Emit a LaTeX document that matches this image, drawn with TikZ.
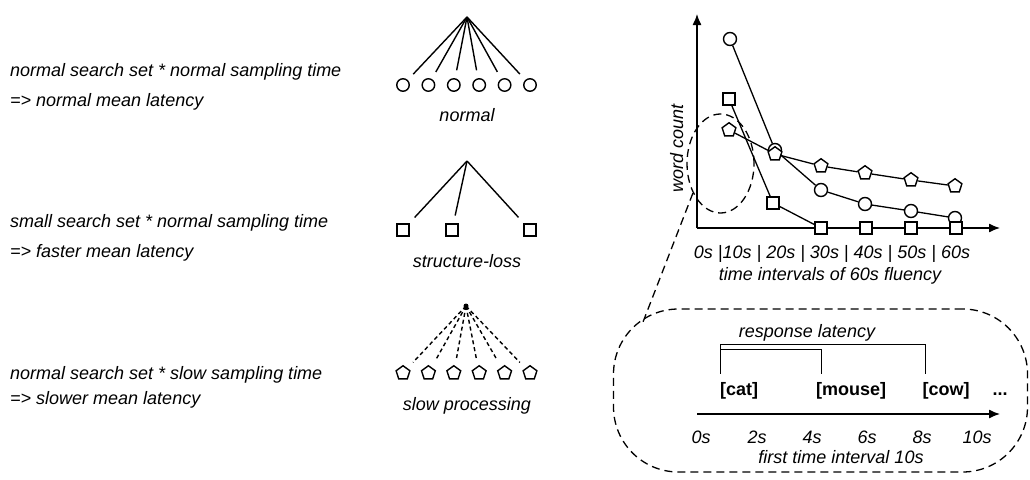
\documentclass[tikz,border=0pt]{standalone}
\usepackage{fontspec}
\setmainfont{Liberation Sans}
\usetikzlibrary{positioning}
\usetikzlibrary{shapes.geometric}
\usetikzlibrary{arrows.meta}

\tikzset{
	txt/.style = {font = \fontsize{18}{22}\selectfont\itshape, inner sep = 0pt},
	word/.style = {font = \fontsize{18}{22}\selectfont\bfseries, inner sep = 0pt},
	leafcirc/.style = {draw, circle, fill = white, line width = 1.4pt, minimum size = 12.5pt, inner sep = 0pt},
	leafsq/.style = {draw, rectangle, fill = white, line width = 1.4pt, minimum size = 12pt, inner sep = 0pt},
	leafpent/.style = {draw, regular polygon, regular polygon sides = 5, fill = white, line width = 1.4pt, minimum size = 14.5pt, inner sep = 0pt},
	branch/.style = {line width = 1.4pt, shorten >= 8pt},
	slowbranch/.style = {branch, dash pattern = on 4pt off 3pt},
	zoomline/.style = {line width = 1.3pt, dash pattern = on 8pt off 5pt},
	axis/.style = {line width = 1.3pt, -{Latex[length = 11pt, width = 9pt]}},
}

\begin{document}
\begin{tikzpicture}[x = 1pt, y = -1pt]
	\useasboundingbox (0, 0) rectangle (1030, 479);

	\node (rule1a) at (10, 76) [txt, anchor = base west] {normal search set * normal sampling time};
	\node (rule1b) at (10, 106) [txt, anchor = base west] {=> normal mean latency};
	\node (rule2a) at (10, 227) [txt, anchor = base west] {small search set * normal sampling time};
	\node (rule2b) at (10, 257) [txt, anchor = base west] {=> faster mean latency};
	\node (rule3a) at (10, 379) [txt, anchor = base west] {normal search set * slow sampling time};
	\node (rule3b) at (10, 404) [txt, anchor = base west] {=> slower mean latency};

	\coordinate (top1) at (467, 17);
	\node (n1) at (403, 85) [leafcirc] {};
	\node (n2) at (428.4, 85) [leafcirc] {};
	\node (n3) at (453.8, 85) [leafcirc] {};
	\node (n4) at (479.2, 85) [leafcirc] {};
	\node (n5) at (504.6, 85) [leafcirc] {};
	\node (n6) at (530, 85) [leafcirc] {};
	\draw [branch] (top1) -- (n1);
	\draw [branch] (top1) -- (n2);
	\draw [branch] (top1) -- (n3);
	\draw [branch] (top1) -- (n4);
	\draw [branch] (top1) -- (n5);
	\draw [branch] (top1) -- (n6);
	\node (lab1) at (467, 121) [txt, anchor = base] {normal};

	\coordinate (top2) at (467, 161);
	\node (q1) at (403, 230) [leafsq] {};
	\node (q2) at (452, 230) [leafsq] {};
	\node (q3) at (530, 230) [leafsq] {};
	\draw [branch] (top2) -- (q1);
	\draw [branch] (top2) -- (q2);
	\draw [branch] (top2) -- (q3);
	\node (lab2) at (467, 267) [txt, anchor = base] {structure-loss};

	\coordinate (top3) at (466, 306);
	\node (m1) at (403, 373) [leafpent] {};
	\node (m2) at (428.4, 373) [leafpent] {};
	\node (m3) at (453.8, 373) [leafpent] {};
	\node (m4) at (479.2, 373) [leafpent] {};
	\node (m5) at (504.6, 373) [leafpent] {};
	\node (m6) at (530, 373) [leafpent] {};
	\fill (top3) circle [radius = 2.5pt];
	\draw [slowbranch] (top3) -- (m1);
	\draw [slowbranch] (top3) -- (m2);
	\draw [slowbranch] (top3) -- (m3);
	\draw [slowbranch] (top3) -- (m4);
	\draw [slowbranch] (top3) -- (m5);
	\draw [slowbranch] (top3) -- (m6);
	\node (lab3) at (467, 410) [txt, anchor = base] {slow processing};

	\coordinate (origin) at (697, 228);
	\coordinate (ytip) at (697, 14);
	\coordinate (xtip) at (1000, 228);
	\draw [axis] (origin) -- (ytip);
	\draw [axis] (origin) -- (xtip);

	\node (c1) at (730, 39) [leafcirc, minimum size = 13pt] {};
	\node (c2) at (775, 150) [leafcirc, minimum size = 13pt] {};
	\node (c3) at (821, 190) [leafcirc, minimum size = 13pt] {};
	\node (c4) at (865, 204) [leafcirc, minimum size = 13pt] {};
	\node (c5) at (911, 211) [leafcirc, minimum size = 13pt] {};
	\node (c6) at (955, 218) [leafcirc, minimum size = 13pt] {};
	\node (s1) at (729, 99) [leafsq] {};
	\node (s2) at (773, 203) [leafsq] {};
	\node (s3) at (821, 228) [leafsq] {};
	\node (s4) at (866, 228) [leafsq] {};
	\node (s5) at (911, 228) [leafsq] {};
	\node (s6) at (956, 228) [leafsq] {};
	\node (p1) at (729, 130) [leafpent] {};
	\node (p2) at (775, 154) [leafpent] {};
	\node (p3) at (821, 166) [leafpent] {};
	\node (p4) at (865, 173) [leafpent] {};
	\node (p5) at (911, 180) [leafpent] {};
	\node (p6) at (955, 186) [leafpent] {};
	\draw [line width = 1.3pt] (c1) -- (c2) -- (c3) -- (c4) -- (c5) -- (c6);
	\draw [line width = 1.3pt] (s1) -- (s2) -- (s3) -- (s4) -- (s5) -- (s6);
	\draw [line width = 1.3pt] (p1) -- (p2) -- (p3) -- (p4) -- (p5) -- (p6);

	\node (ticks) at (832, 258) [txt, anchor = base] {0s |10s | 20s | 30s | 40s | 50s | 60s};
	\node (xlabel) at (830, 280) [txt, anchor = base] {time intervals of 60s fluency};
	\node (ylabel) at (683, 148) [txt, anchor = base, rotate = 90] {word count};

	\node (focus) at (720.5, 163.5) [draw, ellipse, zoomline, minimum width = 67pt, minimum height = 99pt, inner sep = 0pt] {};
	\node (bubble) at (820.5, 390.5) [draw, zoomline, rounded corners = 65pt, minimum width = 414pt, minimum height = 163pt, inner sep = 0pt] {};
	\coordinate (entry) at (643, 322);
	\draw [zoomline] (focus.227) -- (entry);

	\node (resp) at (807, 337) [txt, anchor = base] {response latency};
	\node (cat) at (739, 395) [word, anchor = base] {[cat]};
	\node (mouse) at (851, 395) [word, anchor = base] {[mouse]};
	\node (cow) at (946, 395) [word, anchor = base] {[cow]};
	\node (more) at (1000, 395) [word, anchor = base] {...};
	\draw [line width = 1.3pt] ([shift = {(1pt, 8pt)}]cat.north west) |- ([shift = {(3.5pt, 37pt)}]cow.north west) -- ([shift = {(3.5pt, 8pt)}]cow.north west);
	\draw [line width = 1.3pt] ([shift = {(1pt, 32pt)}]cat.north west) -| ([shift = {(6pt, 8pt)}]mouse.north west);

	\coordinate (tstart) at (697, 414);
	\coordinate (tend) at (1000, 414);
	\draw [axis] (tstart) -- (tend);
	\node (t0) at (701, 443) [txt, anchor = base] {0s};
	\node (t2) at (757, 443) [txt, anchor = base] {2s};
	\node (t4) at (812, 443) [txt, anchor = base] {4s};
	\node (t6) at (867, 443) [txt, anchor = base] {6s};
	\node (t8) at (922, 443) [txt, anchor = base] {8s};
	\node (t10) at (977, 443) [txt, anchor = base] {10s};
	\node (tlabel) at (841, 463) [txt, anchor = base] {first time interval 10s};
\end{tikzpicture}
\end{document}
